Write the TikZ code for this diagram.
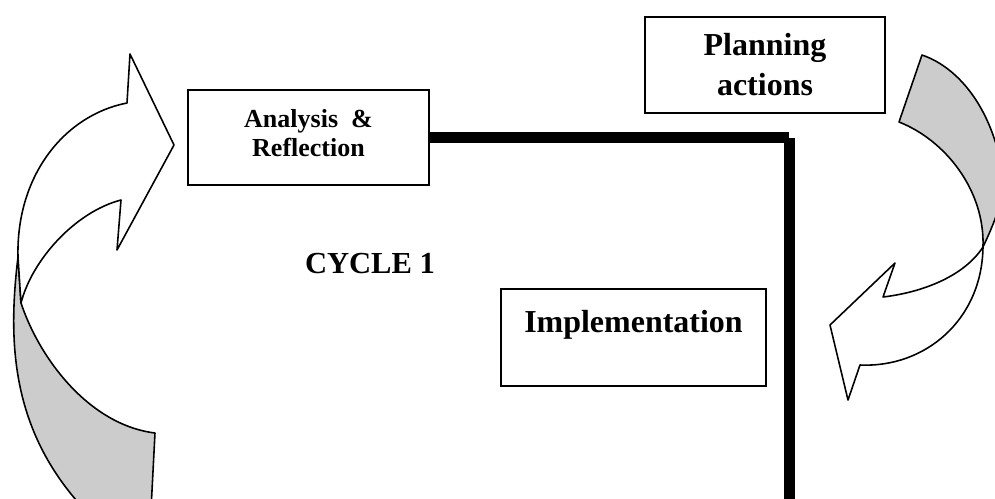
\documentclass[tikz,border=0pt]{standalone}
\usepackage{fontspec}
\setmainfont{Liberation Serif}
\usetikzlibrary{positioning}
\tikzset{stage/.style={draw,line width=0.8pt,inner sep=0pt,align=center},
ribbon/.style={draw,line width=0.9pt,line join=round}}

\begin{document}
\begin{tikzpicture}[x=0.02cm,y=-0.02cm,
			rail/.style={line width=0.22cm},
			back/.style={ribbon,fill=black!20},
			front/.style={ribbon,fill=white},
			big/.style={font=\bfseries\fontsize{18.2pt}{22.8pt}\selectfont},
			small/.style={font=\bfseries\fontsize{14.8pt}{16.5pt}\selectfont}]
		\useasboundingbox (0,0) rectangle (995,498);

		\begin{scope}
			\clip (0,0) rectangle (995,498);
			% left loop
			\draw[back] (18,257) .. controls (8,340) and (10,430) .. (85,510) -- (151,510) -- (155,433)
				.. controls (90,425) and (40,360) .. (21,303) -- cycle;
			\draw[front] (18,257) .. controls (16,175) and (65,115) .. (127,103) -- (130,54) -- (174,145)
				-- (117,250) -- (121,200) .. controls (75,212) and (32,260) .. (21,303) -- cycle;
			% right loop
			\draw[back] (922,55) .. controls (960,68) and (992,110) .. (1002,170)
				.. controls (1005,195) and (998,215) .. (983,247)
				.. controls (985,190) and (945,140) .. (899,122) -- cycle;
			\draw[front] (983,247) .. controls (982,320) and (925,368) .. (860,365) -- (848,400) -- (830,325)
				-- (895,263) -- (883,297) .. controls (925,292) and (965,275) .. (983,247) -- cycle;
		\end{scope}

		\node[stage,small,minimum width=4.82cm,minimum height=1.9cm] (ana) at (308.5,137.5)
			{Analysis\ \ \&\\Reflection\rule[-0.2cm]{0pt}{0pt}};
		\node[stage,big,minimum width=4.8cm,minimum height=1.92cm] (plan) at (765,65) {Planning\\actions};
		\node[stage,big,minimum width=5.3cm,minimum height=1.94cm] (impl) at (633.5,337.5)
			{Implementation\rule[-0.66cm]{0pt}{0pt}};
		\node[font=\bfseries\fontsize{17.4pt}{20pt}\selectfont,anchor=base] (cycle) at (370,273) {CYCLE 1};

		\coordinate (railend) at (789,510);
		\draw[rail] (ana.east) -- (ana.east -| railend);
		\draw[rail] (ana.east -| railend) -- (railend);
	\end{tikzpicture}
\end{document}
